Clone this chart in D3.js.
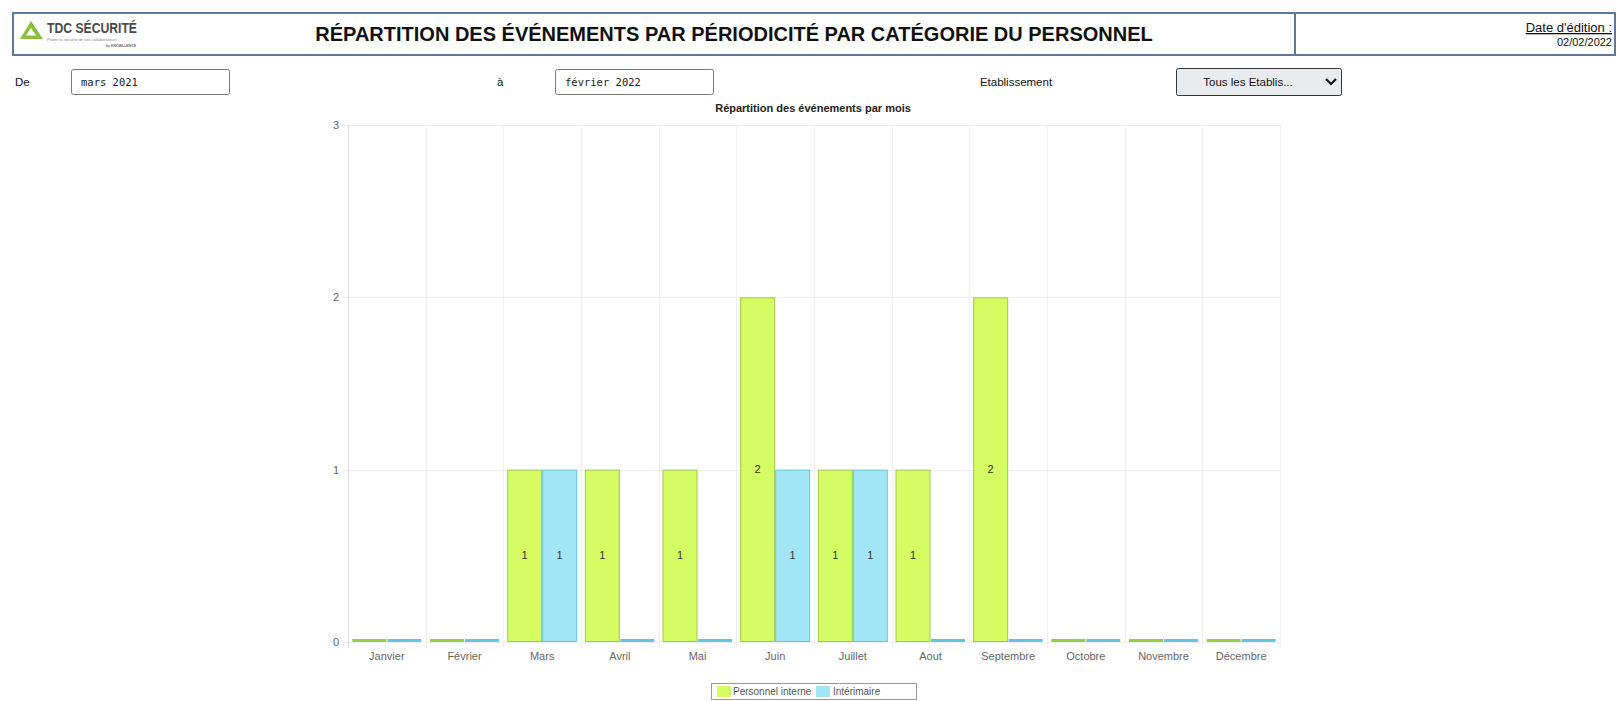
<!DOCTYPE html>
<html>
<head>
<meta charset="utf-8">
<script src="https://cdn.jsdelivr.net/npm/d3@7"></script>
<style>
  body { margin: 0; background: #fff; font-family: "Liberation Sans", Arial, sans-serif; }
  svg { display: block; }
</style>
</head>
<body>
<svg width="1623" height="701"></svg>
<script>
const months = ["Janvier", "Février", "Mars", "Avril", "Mai", "Juin", "Juillet", "Aout", "Septembre", "Octobre", "Novembre", "Décembre"];
const series = ["Personnel interne", "Intérimaire"];
const interne = [0, 0, 1, 1, 1, 2, 1, 1, 2, 0, 0, 0];
const interimaire = [0, 0, 1, 0, 0, 1, 1, 0, 0, 0, 0, 0];
const yTicks = [0, 1, 2, 3];

const fills = { "Personnel interne": "#d5fc62", "Intérimaire": "#a2e6f6" };
const strokes = { "Personnel interne": "#9ccb46", "Intérimaire": "#62c6e2" };

const svg = d3.select("svg");
const font = "'Liberation Sans', Arial, sans-serif";

// Header
svg.append("rect")
  .attr("x", 13).attr("y", 13).attr("width", 1602).attr("height", 42)
  .attr("fill", "none").attr("stroke", "#5b7aa0").attr("stroke-width", 2);
svg.append("line")
  .attr("x1", 1295).attr("x2", 1295).attr("y1", 13).attr("y2", 55)
  .attr("stroke", "#5b7aa0").attr("stroke-width", 2);

// Logo
const logo = svg.append("g").attr("transform", "translate(20,20)");
logo.append("path")
  .attr("d", "M11,1 L23,19 L0,19 Z M11,8 L16,15.5 L6,15.5 Z")
  .attr("fill", "#8cbf3a").attr("fill-rule", "evenodd");
logo.append("text")
  .attr("x", 27).attr("y", 13)
  .attr("font-family", font).attr("font-weight", "bold").attr("font-size", 14.5)
  .attr("fill", "#4a4a4a").attr("textLength", 90).attr("lengthAdjust", "spacingAndGlyphs")
  .text("TDC SÉCURITÉ");
logo.append("text")
  .attr("x", 27).attr("y", 21)
  .attr("font-family", font).attr("font-size", 4)
  .attr("fill", "#888")
  .text("Piloter la sécurité de vos collaborateurs");
logo.append("text")
  .attr("x", 116).attr("y", 27).attr("text-anchor", "end")
  .attr("font-family", font).attr("font-size", 3.5).attr("font-weight", "bold")
  .attr("fill", "#666")
  .text("by KNOWLLENCE");

svg.append("text")
  .attr("x", 734).attr("y", 41).attr("text-anchor", "middle")
  .attr("font-family", font).attr("font-weight", "bold").attr("font-size", 20)
  .attr("fill", "#111")
  .text("RÉPARTITION DES ÉVÉNEMENTS PAR PÉRIODICITÉ PAR CATÉGORIE DU PERSONNEL");

svg.append("text")
  .attr("x", 1612).attr("y", 32).attr("text-anchor", "end")
  .attr("font-family", font).attr("font-size", 13).attr("fill", "#111")
  .attr("text-decoration", "underline")
  .text("Date d'édition :");
svg.append("text")
  .attr("x", 1612).attr("y", 46).attr("text-anchor", "end")
  .attr("font-family", font).attr("font-size", 11).attr("fill", "#111")
  .text("02/02/2022");

// Filters
const filt = svg.append("g").attr("font-family", font).attr("font-size", 11.5).attr("fill", "#111");
filt.append("text").attr("x", 15).attr("y", 86).text("De");
filt.append("text").attr("x", 497).attr("y", 86).text("à");
filt.append("text").attr("x", 1016).attr("y", 86).attr("text-anchor", "middle").text("Etablissement");

[[71, "mars 2021"], [555, "février 2022"]].forEach(([x, t]) => {
  svg.append("rect")
    .attr("x", x + 0.5).attr("y", 69.5).attr("width", 158).attr("height", 25).attr("rx", 2)
    .attr("fill", "#fff").attr("stroke", "#7a7a7a");
  svg.append("text")
    .attr("x", x + 10).attr("y", 86)
    .attr("font-family", "'DejaVu Sans Mono', monospace").attr("font-size", 10.5).attr("fill", "#222")
    .text(t);
});

svg.append("rect")
  .attr("x", 1176.5).attr("y", 68.5).attr("width", 165).attr("height", 27).attr("rx", 2)
  .attr("fill", "#e9ecef").attr("stroke", "#333");
svg.append("text")
  .attr("x", 1248).attr("y", 86).attr("text-anchor", "middle")
  .attr("font-family", font).attr("font-size", 11.5).attr("fill", "#111")
  .text("Tous les Etablis...");
svg.append("path")
  .attr("d", "M1326,79 L1331,84 L1336,79")
  .attr("fill", "none").attr("stroke", "#111").attr("stroke-width", 2.2);

// Chart
const plot = { left: 348, right: 1280, top: 125, bottom: 642 };

const x = d3.scaleBand().domain(months).range([plot.left, plot.right]).padding(0);
const x1 = d3.scaleBand().domain(series).range([0, x.bandwidth()]).paddingInner(0).paddingOuter(0.11);
const y = d3.scaleLinear().domain([0, 3]).range([plot.bottom, plot.top]);

svg.append("text")
  .attr("x", 813).attr("y", 112).attr("text-anchor", "middle")
  .attr("font-family", font).attr("font-weight", "bold").attr("font-size", 11).attr("fill", "#222")
  .text("Répartition des événements par mois");

// Grid
const grid = svg.append("g");
grid.selectAll("line.h").data(yTicks).join("line")
  .attr("x1", plot.left - 5).attr("x2", plot.right)
  .attr("y1", d => Math.round(y(d)) + 0.5).attr("y2", d => Math.round(y(d)) + 0.5)
  .attr("stroke", "#eeeeee");
grid.selectAll("line.v").data(months.concat(["end"])).join("line")
  .attr("x1", (d, i) => Math.round(plot.left + i * x.step()) + 0.5)
  .attr("x2", (d, i) => Math.round(plot.left + i * x.step()) + 0.5)
  .attr("y1", plot.top).attr("y2", plot.bottom + 6)
  .attr("stroke", (d, i) => i === 0 ? "#dddddd" : "#f0f0f0");

// Y axis
const yAxis = svg.append("g")
  .attr("transform", `translate(${plot.left - 5},0)`)
  .call(d3.axisLeft(y).tickValues(yTicks).tickSize(0).tickPadding(4).tickFormat(d3.format("d")));
yAxis.select(".domain").remove();
yAxis.selectAll("text").attr("font-family", font).attr("font-size", 11).attr("fill", "#666");

// X axis
const xAxis = svg.append("g")
  .attr("transform", `translate(0,${plot.bottom})`)
  .call(d3.axisBottom(x).tickSize(0).tickPadding(10));
xAxis.select(".domain").remove();
xAxis.selectAll("text").attr("font-family", font).attr("font-size", 11).attr("fill", "#666");

// Bars
const rows = months.map((m, i) => ({ month: m, values: [
  { key: series[0], value: interne[i] },
  { key: series[1], value: interimaire[i] }
] }));

const groups = svg.append("g").selectAll("g").data(rows).join("g")
  .attr("transform", d => `translate(${x(d.month)},0)`);

groups.selectAll("rect").data(d => d.values).join("rect")
  .attr("x", d => x1(d.key) + 0.5)
  .attr("width", x1.bandwidth() - 1)
  .attr("y", d => d.value > 0 ? y(d.value) + 0.5 : plot.bottom - 3)
  .attr("height", d => d.value > 0 ? y(0) - y(d.value) - 1 : 3)
  .attr("fill", d => d.value > 0 ? fills[d.key] : strokes[d.key])
  .attr("stroke", d => d.value > 0 ? strokes[d.key] : "none");

groups.selectAll("text").data(d => d.values.filter(v => v.value > 0)).join("text")
  .attr("x", d => x1(d.key) + x1.bandwidth() / 2)
  .attr("y", d => (y(d.value) + y(0)) / 2 + 3)
  .attr("text-anchor", "middle")
  .attr("font-family", font).attr("font-size", 11).attr("fill", "#333")
  .text(d => d.value);

// Legend
const legend = svg.append("g");
legend.append("rect")
  .attr("x", 711.5).attr("y", 683.5).attr("width", 205).attr("height", 16)
  .attr("fill", "#fff").attr("stroke", "#999");
const legendPos = [{ key: series[0], sx: 717, tx: 733 }, { key: series[1], sx: 816, tx: 833 }];
legendPos.forEach(p => {
  legend.append("rect")
    .attr("x", p.sx).attr("y", 686).attr("width", 14).attr("height", 11)
    .attr("fill", fills[p.key]);
  legend.append("text")
    .attr("x", p.tx).attr("y", 695)
    .attr("font-family", font).attr("font-size", 10).attr("fill", "#555")
    .text(p.key);
});
</script>
</body>
</html>
